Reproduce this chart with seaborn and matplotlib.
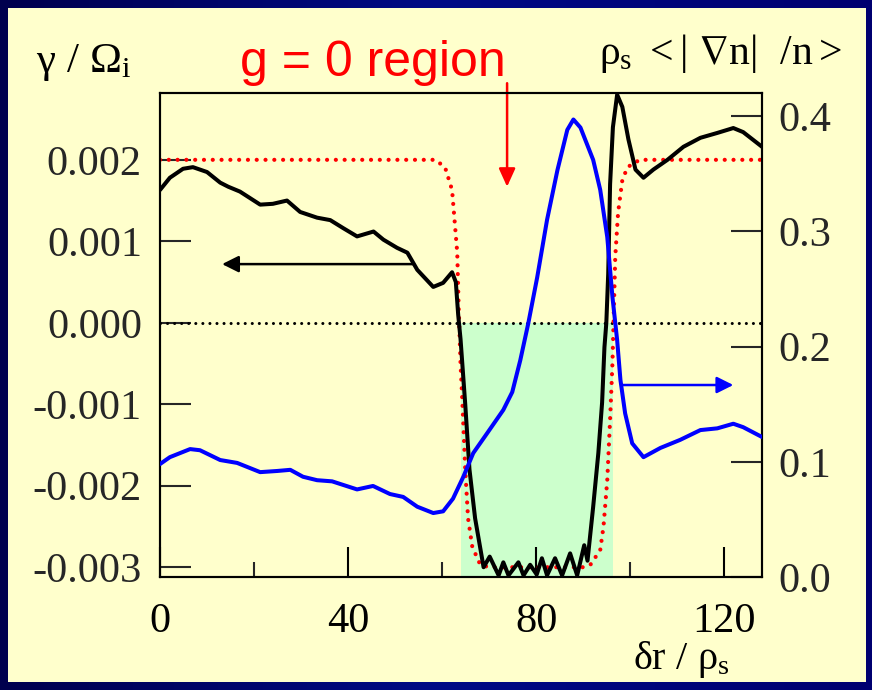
import numpy as np
import matplotlib
matplotlib.use("Agg")
import matplotlib.pyplot as plt
from matplotlib.patches import Rectangle
from matplotlib.colors import LinearSegmentedColormap
import seaborn as sns

# ---- data -------------------------------------------------------------
# growth rate gamma / Omega_i versus radial position (left axis)
gamma_x = [0, 2.1, 4.9, 7.0, 10, 12.8, 14.5, 17, 21.3, 24, 27, 29.8, 33.4, 36.2,
           39, 41.9, 45.4, 47.5, 50.4, 52.6, 54.7, 58.1, 60.2, 62.1, 62.9, 63.4,
           63.9, 64.9, 65.8, 67.0, 68.8, 70.1, 72.0, 73.0, 74.1, 76.2, 77.3, 78.7,
           80.1, 81.2, 82.3, 84.0, 85.5, 87.2, 88.7, 90.2, 90.9, 92.1, 93.2, 94.0,
           94.5, 94.9, 95.3, 95.7, 96.3, 97.2, 98.3, 99.6, 101.1, 102.8, 104.9,
           107.9, 111.3, 114.9, 118.5, 121.9, 124.0, 128.0]
gamma_y = [0.00163, 0.00178, 0.00189, 0.00191, 0.00185, 0.00172, 0.00167, 0.00161,
           0.00145, 0.00146, 0.00150, 0.00136, 0.00129, 0.00126, 0.00116, 0.00106,
           0.00112, 0.00102, 0.00092, 0.00086, 0.00065, 0.00044, 0.00049, 0.00062,
           0.00050, 0.00010, -0.00020, -0.00100, -0.00180, -0.00240, -0.00300,
           -0.00287, -0.00310, -0.00294, -0.00310, -0.00294, -0.00310, -0.00297,
           -0.00309, -0.00289, -0.00310, -0.00289, -0.00310, -0.00283, -0.00310,
           -0.00273, -0.00292, -0.00226, -0.00160, -0.00098, -0.00030, 0.00000,
           0.00060, 0.00170, 0.00240, 0.00280, 0.00265, 0.00225, 0.00188, 0.00178,
           0.00188, 0.00200, 0.00216, 0.00227, 0.00233, 0.00239, 0.00234, 0.00216]

# g profile (scaled, left axis)
g_x = [0, 58.5, 60.6, 62.1, 62.8, 63.2, 63.5, 63.9, 64.3, 64.9, 65.5, 66.4, 68.1,
       70.0, 90.0, 91.5, 93.6, 94.3, 95.1, 95.7, 96.2, 96.8, 97.4, 98.3, 99.4,
       102.0, 128.0]
g_y = [0.00200, 0.00200, 0.00191, 0.00163, 0.00114, 0.00086, 0.00020, -0.00050,
       -0.00098, -0.00180, -0.00240, -0.00275, -0.00297, -0.00300, -0.00300,
       -0.00297, -0.00279, -0.00250, -0.00193, -0.00119, -0.00050, 0.00081,
       0.00135, 0.00175, 0.00191, 0.00200, 0.00200]

# density gradient rho_s <|grad n|/n> (right axis)
grad_x = [0, 2.1, 6.4, 8.5, 12.8, 16.4, 21.3, 24.9, 27.7, 30.4, 33.4, 36.6, 41.9,
          45.3, 48.9, 51.7, 54.7, 58.1, 60.2, 62.3, 64.5, 66.6, 69.6, 73.0, 74.9,
          76.6, 78.3, 80.2, 82.3, 84.5, 86.6, 87.9, 89.4, 92.1, 93.6, 95.1, 96.2,
          97.2, 97.9, 98.9, 100.4, 102.8, 106.4, 110.6, 114.9, 118.5, 121.9,
          124.0, 128.0]
grad_y = [0.098, 0.104, 0.111, 0.110, 0.1015, 0.099, 0.091, 0.092, 0.093, 0.087,
          0.084, 0.083, 0.076, 0.079, 0.072, 0.0695, 0.061, 0.0555, 0.057, 0.068,
          0.087, 0.1075, 0.125, 0.145, 0.1605, 0.188, 0.220, 0.260, 0.310, 0.353,
          0.388, 0.397, 0.390, 0.362, 0.336, 0.295, 0.243, 0.2055, 0.171, 0.142,
          0.116, 0.104, 0.112, 0.119, 0.1275, 0.129, 0.133, 0.130, 0.1215]

# g = 0 band
band_x = [64.0, 96.4]

x_major = [0, 40, 80, 120]
x_minor = [20, 60, 100]
gamma_ticks = [-0.003, -0.002, -0.001, 0.000, 0.001, 0.002]
gamma_labels = ["-0.003", "-0.002", "-0.001", "0.000", "0.001", "0.002"]
grad_ticks = [0.0, 0.1, 0.2, 0.3, 0.4]
grad_labels = ["0.0", "0.1", "0.2", "0.3", "0.4"]

# ---- style ------------------------------------------------------------
sns.set_style("ticks")
plt.rcParams["font.family"] = ["Liberation Serif", "DejaVu Serif"]
plt.rcParams["mathtext.fontset"] = "custom"
plt.rcParams["mathtext.rm"] = "Liberation Serif"
plt.rcParams["mathtext.it"] = "Liberation Serif"
plt.rcParams["mathtext.bf"] = "Liberation Serif:bold"
plt.rcParams["mathtext.fallback"] = "stix"

W, H = 872, 690
fig = plt.figure(figsize=(W / 100, H / 100), dpi=100)

# slide background: dark blue frame with a light yellow panel
bg = fig.add_axes([0, 0, 1, 1])
grad = np.linspace(0, 1, 256)[None, :] * np.ones((16, 1))
blue_cmap = LinearSegmentedColormap.from_list("navy", ["#00004e", "#000a86", "#000070"])
bg.imshow(grad, extent=[0, 1, 0, 1], aspect="auto", cmap=blue_cmap)
bg.add_patch(Rectangle((8 / W, 8 / H), (866 - 8) / W, (682 - 8) / H,
                       facecolor="#ffffcc", edgecolor="none"))
bg.set_xlim(0, 1)
bg.set_ylim(0, 1)
bg.axis("off")

ax = fig.add_axes([160 / W, 1 - 577 / H, 602 / W, 484 / H])
ax.set_facecolor("#ffffcc")
ax2 = ax.twinx()

# g = 0 region shading
ax.fill_between(band_x, -0.0032, 0.0, color="#ccffcc", zorder=0.5, lw=0)
ax.axhline(0.0, color="black", lw=2.2, linestyle=(0, (0.01, 2.3)),
           dash_capstyle="round", zorder=1)

sns.lineplot(x=g_x, y=g_y, ax=ax, color="red", lw=3.0, estimator=None,
             linestyle=(0, (0.01, 2.1)), dash_capstyle="round", zorder=2)
sns.lineplot(x=gamma_x, y=gamma_y, ax=ax, color="black", lw=2.9, estimator=None,
             solid_joinstyle="round", solid_capstyle="round", zorder=3)
sns.lineplot(x=grad_x, y=grad_y, ax=ax2, color="#0000ff", lw=2.9, estimator=None,
             solid_joinstyle="round", solid_capstyle="round", zorder=3)

ax.set_xlim(0, 128)
ax.set_ylim(-0.00312, 0.00282)
ax2.set_ylim(0.0, 0.42)

tick_font = dict(family="Liberation Serif", size=30.5)
ax.set_xticks(x_major, labels=[str(v) for v in x_major], **tick_font)
ax.set_xticks(x_minor, minor=True)
ax.set_yticks(gamma_ticks, labels=gamma_labels, **tick_font)
ax2.set_yticks(grad_ticks, labels=grad_labels, **tick_font)

ax.tick_params(axis="x", which="major", direction="in", length=21.5, width=1.5,
               pad=18, colors="black")
ax.tick_params(axis="x", which="minor", direction="in", length=11, width=1.5)
ax.tick_params(axis="y", which="major", direction="in", length=22, width=1.5,
               pad=13, left=True, right=False)
ax2.tick_params(axis="y", which="major", direction="in", length=22, width=1.5,
                pad=12)
ax2.tick_params(axis="x", which="both", bottom=False, top=False)
for a in (ax, ax2):
    for s in a.spines.values():
        s.set_linewidth(1.5)
        s.set_color("black")
        s.set_visible(True)
ax.set_xlabel("")
ax.set_ylabel("")
ax2.set_ylabel("")

# direction arrows
head = "-|>,head_length=1.0,head_width=0.5"
ax.annotate("", xy=(13.2, 0.00072), xytext=(53.8, 0.00072),
            arrowprops=dict(arrowstyle=head, mutation_scale=10, color="black",
                            lw=1.8, shrinkA=0, shrinkB=0), zorder=4)
ax2.annotate("", xy=(121.9, 0.1666), xytext=(98.3, 0.1666),
             arrowprops=dict(arrowstyle=head, mutation_scale=10, color="#0000ff",
                             lw=1.8, shrinkA=0, shrinkB=0), zorder=4)
ax.annotate("", xy=(73.8, 0.00167), xytext=(73.8, 0.00294),
            arrowprops=dict(arrowstyle="-|>,head_length=1.1,head_width=0.5",
                            mutation_scale=10, color="red", lw=1.8,
                            shrinkA=0, shrinkB=0),
            annotation_clip=False, zorder=4)

# axis titles and annotation
fig.text(36 / W, 1 - 72 / H, r"$\gamma\ /\ \Omega_{i}$", fontsize=31,
         ha="left", va="baseline", color="black")
fig.text(842 / W, 1 - 64 / H, r"$\rho_{s}\ <|\ \nabla n|\ \ /n>$", fontsize=30,
         ha="right", va="baseline", color="black")
fig.text(730 / W, 1 - 669 / H, r"$\delta r\ /\ \rho_{s}$", fontsize=29,
         ha="right", va="baseline", color="black")
fig.text(373 / W, 1 - 76 / H, "g = 0 region", fontsize=36, color="red",
         family=["Liberation Sans", "DejaVu Sans"], ha="center", va="baseline")

fig.savefig("out.png", dpi=100, facecolor=fig.get_facecolor())
